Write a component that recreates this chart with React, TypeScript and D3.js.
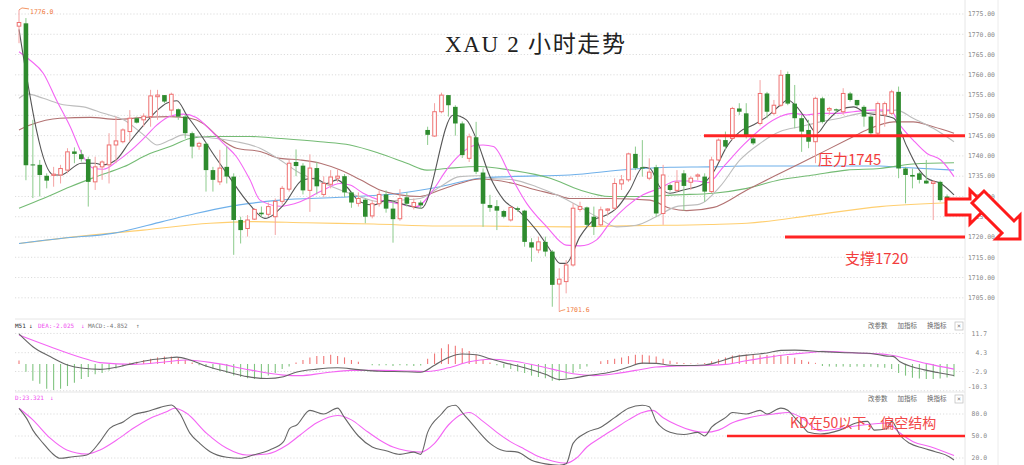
import React from 'react';
import * as d3 from 'd3';

const W = 1024;
const H = 465;

// ---- candles (2h XAU) ----
const opens = [1772.0,1772.7,1737.9,1737.8,1735.1,1735.2,1735.3,1736.5,1741.1,1740.4,1739.2,1733.6,1737.3,1737.8,1742.7,1743.5,1746.0,1749.3,1748.9,1749.7,1754.6,1755.0,1751.3,1751.5,1749.7,1745.6,1742.4,1743.0,1736.5,1733.6,1737.3,1734.9,1724.2,1722.1,1724.4,1726.0,1725.6,1725.0,1728.8,1731.8,1738.5,1737.6,1731.5,1737.0,1730.5,1733.0,1734.5,1735.0,1731.0,1728.3,1729.2,1725.2,1728.2,1730.5,1727.0,1724.5,1729.8,1727.5,1728.5,1746.4,1744.9,1750.9,1755.0,1752.1,1748.0,1739.4,1744.6,1735.9,1727.9,1727.6,1726.4,1724.2,1727.1,1726.5,1718.7,1716.8,1718.8,1716.4,1708.4,1709.0,1713.1,1726.8,1727.3,1725.0,1723.0,1726.6,1727.1,1733.1,1734.1,1740.5,1737.2,1734.5,1737.2,1725.8,1732.8,1731.5,1735.7,1733.5,1735.0,1734.9,1731.2,1739.0,1743.9,1744.3,1751.7,1750.5,1744.3,1748.0,1755.4,1750.5,1752.5,1760.2,1752.9,1749.3,1746.4,1743.5,1754.2,1751.3,1751.5,1750.9,1755.4,1753.8,1752.1,1749.7,1745.6,1750.1,1750.5,1755.8,1736.9,1735.3,1735.7,1733.9,1733.2,1733.6,1730.0,1728.3];
const highs = [1776.0,1774.0,1748.9,1739.0,1735.7,1737.3,1737.8,1741.9,1742.1,1741.5,1739.8,1739.8,1738.9,1745.6,1749.7,1746.8,1751.3,1749.7,1750.5,1756.3,1756.3,1755.0,1755.6,1751.7,1750.1,1746.0,1743.5,1743.3,1737.3,1741.5,1742.3,1735.7,1725.0,1725.4,1727.1,1727.5,1728.5,1729.5,1732.6,1739.0,1741.6,1738.2,1740.4,1738.5,1735.0,1736.5,1736.8,1735.5,1731.2,1731.0,1729.5,1729.0,1731.5,1731.5,1729.0,1731.8,1731.0,1729.5,1729.0,1747.2,1753.0,1755.6,1755.0,1752.5,1748.5,1745.5,1748.4,1736.9,1730.4,1729.1,1726.7,1727.6,1727.5,1726.7,1719.7,1720.1,1720.1,1716.8,1712.3,1714.3,1728.3,1728.7,1727.5,1727.5,1727.5,1727.1,1734.5,1735.3,1740.8,1742.3,1743.9,1739.4,1737.8,1737.8,1733.2,1736.5,1736.5,1735.0,1735.7,1735.7,1739.8,1744.3,1746.0,1752.1,1753.0,1753.0,1744.7,1758.7,1755.8,1753.8,1761.2,1760.8,1757.5,1750.1,1748.9,1754.6,1754.6,1752.1,1751.7,1756.7,1755.8,1753.8,1752.5,1750.1,1753.4,1753.4,1756.3,1757.1,1737.3,1736.9,1736.1,1739.0,1734.0,1733.9,1730.5,1728.7];
const lows = [1767.8,1734.0,1729.6,1730.0,1732.0,1732.4,1733.2,1735.7,1738.2,1738.6,1727.5,1731.6,1734.1,1733.2,1738.2,1743.1,1743.5,1748.0,1747.2,1747.2,1748.9,1753.0,1749.7,1748.9,1744.3,1739.4,1741.5,1731.2,1731.2,1732.8,1733.2,1715.6,1718.4,1720.1,1724.2,1724.8,1725.0,1720.5,1728.0,1731.2,1735.0,1730.5,1726.2,1730.5,1729.8,1732.0,1733.5,1729.8,1727.2,1727.5,1723.4,1724.6,1727.5,1726.0,1718.6,1724.0,1727.5,1726.8,1727.0,1742.7,1744.7,1750.5,1749.7,1745.0,1739.5,1738.5,1735.5,1722.5,1726.2,1721.7,1724.6,1723.8,1726.2,1717.6,1713.9,1716.0,1715.2,1702.8,1701.6,1706.1,1712.7,1726.2,1722.5,1720.5,1722.5,1725.4,1726.7,1731.6,1733.6,1736.5,1734.9,1734.0,1725.0,1723.0,1731.2,1731.0,1726.5,1731.6,1734.0,1728.7,1730.8,1738.6,1741.5,1743.9,1750.1,1744.3,1742.7,1747.5,1749.3,1750.1,1752.1,1752.5,1746.8,1741.0,1741.9,1738.2,1748.0,1750.1,1750.5,1750.1,1753.4,1752.1,1747.2,1745.2,1744.7,1747.2,1750.1,1734.5,1728.3,1732.0,1733.2,1733.1,1724.2,1728.7,1728.0,1727.1];
const closes = [1772.9,1737.7,1737.7,1735.3,1733.9,1735.5,1736.9,1741.0,1740.5,1739.2,1733.6,1737.3,1738.5,1742.7,1743.7,1746.4,1749.3,1748.2,1749.8,1754.8,1755.0,1753.4,1755.2,1749.7,1745.6,1742.3,1743.1,1736.5,1734.1,1737.0,1734.9,1724.2,1721.7,1724.2,1726.8,1725.6,1727.5,1728.8,1732.0,1738.2,1737.5,1731.5,1737.0,1732.5,1733.2,1734.8,1735.0,1731.0,1728.5,1729.5,1725.0,1728.2,1730.5,1727.0,1724.4,1729.5,1728.2,1728.5,1727.8,1745.2,1750.9,1755.0,1752.5,1748.0,1740.2,1744.7,1736.1,1728.2,1727.2,1726.5,1725.0,1727.3,1726.7,1718.8,1717.4,1718.8,1716.4,1708.2,1709.6,1713.1,1727.1,1727.5,1723.0,1722.5,1726.7,1726.9,1733.2,1734.1,1740.5,1737.0,1736.9,1736.0,1725.8,1735.3,1731.6,1733.5,1732.6,1734.5,1735.3,1731.2,1739.0,1743.9,1742.3,1751.7,1750.9,1744.7,1743.1,1755.4,1750.9,1752.5,1759.9,1752.9,1749.3,1746.0,1743.5,1754.2,1748.4,1751.7,1751.2,1755.4,1753.8,1752.5,1749.7,1745.6,1752.9,1752.9,1755.8,1736.9,1735.3,1734.9,1734.1,1733.2,1733.6,1729.1,1729.5,1727.5];

// ---- moving averages, read as [candle index, price] ----
const ma5 = [[0,1771.2],[5,1735.3],[6,1735.3],[9,1738.2],[11,1738.2],[12,1737.8],[14,1739],[16,1743.5],[18,1747.6],[20,1751.3],[21.3,1753],[22.8,1753.6],[24.2,1750.1],[26.1,1745.6],[28,1740.6],[30,1735.7],[33.35,1727.9],[35.5,1724.6],[38.2,1727.9],[41,1734.1],[42.7,1734.5],[44.4,1733.2],[45.9,1734.1],[47.3,1732.4],[49.2,1728.7],[51.2,1727.9],[53.1,1729.1],[55,1728.3],[58.1,1727.1],[62.7,1750.1],[64.6,1748.9],[66.1,1743.9],[68,1734.9],[70,1729.1],[72.3,1726.2],[74.7,1721.7],[76.7,1716.8],[78.1,1713.5],[79,1713.5],[81,1720.1],[83,1724.2],[84.8,1725.4],[86.3,1727.1],[88.2,1731.6],[90.1,1737.2],[91.1,1736.9],[92.5,1732.4],[94,1730.8],[95.9,1731.6],[98.5,1732.8],[100.3,1736.1],[102.2,1742.3],[104.1,1746],[106,1747.6],[108,1749.7],[109.9,1752.5],[111,1753.8],[112.3,1752.1],[113.7,1748.9],[115.2,1745.6],[116.6,1748.4],[118.5,1751.3],[120.5,1752.1],[122.4,1750.5],[124.3,1750.1],[126.3,1749.3],[128.2,1742.3],[130,1736.5],[131.1,1734.5],[133.1,1733.2],[135,1730.4]];
const ma10 = [[0,1765.7],[1.6,1763.6],[3.5,1760.4],[5.4,1753.8],[7.4,1747.2],[9.3,1739.8],[10.7,1737],[12.2,1736.7],[14.1,1738.6],[16,1741.1],[18,1744.3],[19.9,1747.6],[21.8,1749.8],[23.7,1750.3],[25.6,1749.5],[27.6,1746.4],[29.5,1743.1],[31.4,1739.8],[33.35,1734.1],[34.8,1729.1],[37.7,1727.6],[40.6,1728.7],[43.5,1731.2],[46.4,1733.2],[47.8,1732.8],[49.7,1730.8],[52.1,1729.1],[54.5,1728.3],[57.4,1727.5],[59.8,1731.6],[61.7,1736.5],[63.6,1740.2],[65.6,1742.5],[67,1742.7],[68.5,1742.3],[70.9,1735.3],[73.3,1728.3],[76.2,1722.5],[79,1718],[81,1717.8],[83.4,1719.3],[85.3,1723.4],[87.7,1727.5],[90.1,1730.4],[92.5,1732],[94.9,1733.8],[97.8,1733.8],[99.5,1733.4],[101.7,1737.3],[104.6,1742.7],[107.5,1747.2],[109.9,1749.7],[111.8,1750.5],[113.7,1750.1],[115.7,1750.5],[118.1,1750.5],[120.5,1750.9],[123.3,1751.3],[125.8,1751.3],[127.2,1747.6],[129.1,1743.9],[131.1,1740.6],[133.1,1739],[135,1734.9]];
const ma20 = [[0,1754.2],[1.2,1755.3],[3.5,1754.2],[6.4,1752.6],[9.3,1752.1],[12.2,1750.5],[15.1,1748.9],[18,1745.2],[19.9,1742.7],[21.8,1743.9],[23.7,1745.2],[25.6,1744.8],[28.5,1744.3],[31.4,1743.5],[34.8,1741.9],[37.7,1739],[40.6,1735.7],[43.5,1733.6],[46.4,1731.6],[49.3,1729.9],[52.1,1728.7],[55,1729.1],[57.9,1729.5],[60.8,1732.4],[63.6,1734.9],[66.5,1735.1],[68,1734.5],[71.4,1734.1],[74.7,1732.4],[77.6,1730.4],[80.5,1727.9],[83.4,1725],[86.3,1722.5],[89.1,1722.9],[92,1725],[94.9,1727.5],[98.3,1728.1],[101.2,1732.4],[104.1,1739],[107,1743.1],[109.9,1746],[112.8,1747.2],[115.7,1748.4],[118.5,1749.3],[121.4,1750.5],[124.3,1750.9],[126.7,1751.3],[129.1,1749.3],[132,1746.8],[135,1743.5]];
const ma30 = [[0,1746.4],[1.6,1747.6],[5.9,1749.3],[10.3,1749.5],[14.1,1749],[18,1749.5],[21.8,1749.7],[24.7,1749.3],[26.6,1748],[29,1744.3],[31.4,1741.9],[34.8,1741.1],[37.7,1739.4],[40.6,1739],[43.5,1738.2],[46.4,1736.5],[49.3,1734.1],[52.1,1731.6],[55,1730.4],[57.9,1730],[60.8,1731.6],[63.6,1733.2],[66.5,1734.3],[71.4,1733.2],[74.7,1731.6],[77.6,1730.4],[79.5,1729.5],[85.3,1729.5],[91.1,1729.1],[94,1727.1],[96.4,1726.5],[100.3,1727.3],[105.1,1731.6],[109.9,1735.7],[114.7,1739.8],[119.5,1743.9],[122.4,1746.4],[126.3,1748.4],[129.1,1748.4],[132,1747.2],[135,1745.6]];
const ma60 = [[0,1727.1],[3.5,1729.5],[7.4,1732.4],[11.2,1734.9],[15.1,1737.3],[18.9,1740.6],[21.8,1742.3],[24.7,1744.3],[27.6,1744.8],[33.35,1744.8],[37.7,1744.3],[43.5,1743.5],[47.8,1742.7],[52.1,1740.6],[56,1738.2],[58.9,1736.5],[61.7,1736.9],[66.5,1737.4],[70.9,1736.5],[76.7,1734.5],[81,1731.6],[85.3,1730],[90.1,1730],[94.9,1730.4],[100.3,1730.8],[105.1,1732],[109.9,1734.1],[114.7,1735.3],[119.5,1736.5],[124.3,1736.9],[129.1,1738],[135,1738.3]];
const ma120 = [[0,1718.4],[6.3,1719.7],[13.5,1720.9],[20.7,1723.8],[25.5,1725.8],[30.3,1727.5],[33.35,1728.3],[37.7,1729.1],[46.4,1729.8],[55,1730.8],[60.8,1732.4],[66.5,1734.5],[70.9,1734.9],[79.5,1735.3],[88.2,1736.7],[94,1737.2],[99.7,1737.3],[105.1,1737.5],[114.7,1737.5],[124.3,1737.5],[127.2,1737.2],[135,1736.5]];
const ma250 = [[0,1718.4],[8.3,1720.1],[17.9,1721.7],[27.6,1723.4],[33.35,1723.8],[41.5,1723.5],[51.2,1723.2],[60.8,1722.7],[66.5,1722.7],[79.5,1722.5],[89.1,1722.8],[99.7,1723.1],[105.1,1723.4],[114.7,1725.4],[124.3,1727.5],[135,1728.5]];

// ---- MACD ----
const dif = [[0,11.5],[2,6.6],[4.5,2.8],[7,-0.4],[9.3,-1.7],[11.7,-2.1],[14,-1.3],[16.5,0.2],[19,1.5],[21.3,2.2],[22.8,2.6],[24.7,1.5],[27,-0.8],[30,-3],[33,-4.9],[35.8,-5.6],[38.2,-4.9],[40,-3.2],[43,-2],[46,-1.5],[49,-2.2],[52,-2.8],[56,-3],[58,-3.2],[60,-0.5],[62,2.5],[64,3.8],[66,3.5],[68,2],[70,0.5],[73,-1.5],[76,-4],[78,-6],[80,-5.5],[82,-4.5],[84,-3.8],[86,-2.8],[88,-1.2],[90,0.3],[92,0.2],[94,-0.5],[96,-0.6],[99,-0.4],[101,0.8],[103,2.5],[106,3.6],[108,4.2],[110,5.2],[112,5.3],[116,4.7],[118.5,4.4],[123,4.0],[125.3,3.0],[126.2,2.9],[127.2,0.8],[129.1,-1.2],[131.1,-2.5],[133,-3.5],[135,-4.45]];
const dea = [[0,11.1],[4.5,6.6],[9.3,2.2],[11.7,0.5],[16.5,-0.2],[21.3,0.8],[24.2,1.5],[28.5,0.2],[33.3,-2.3],[38.2,-4.3],[40.6,-4.5],[44,-3.5],[48,-2.5],[52,-2.5],[56,-2.7],[59,-2.9],[62,-1.5],[65,0.8],[68,1.8],[71,1.2],[74,-0.2],[77,-2],[80,-3.8],[83,-4.5],[86,-3.8],[89,-2.5],[92,-1.2],[95,-0.8],[99,-0.6],[102,-0.2],[105,1.2],[108,2.5],[111,3.6],[114,4.3],[116,4.8],[120.9,4.2],[125.3,3.6],[128.2,2],[131.1,0.1],[135,-2.0]];
const macdHist = [1.3,-3,-6.5,-7.6,-9.5,-10,-9.5,-8.5,-7.2,-5.8,-5,-4,-3.5,-2.5,-1.8,-1,0.4,0.8,1.5,2,2.5,2.8,2.8,2.5,1.5,0.5,-0.5,-1.2,-2,-2.8,-3.5,-4.5,-5,-5.5,-5.8,-5.5,-4.5,-3.5,-2,-1,0.5,1.5,2.5,3,3,3.5,3,2.5,1.5,0.8,0,-0.5,-0.6,-0.5,-0.8,-0.5,-0.6,-0.8,-0.6,2,4,6,7.5,7,6,5,3.5,1.5,0.5,-0.5,-1.5,-2,-2.8,-3.5,-4.5,-5,-5.5,-6.5,-6.5,-5.5,-3.5,-2,-1,0,1,1.5,2,2.5,3,3.5,3.5,3.2,2.8,2,1.2,0.6,0.3,0.2,0.2,0.3,1,1.8,2.5,3.2,3.5,3.6,3.4,3.3,3.4,3.5,3.4,3,2.4,1.5,0.8,0.4,-0.8,-1,-1.1,-1,-1.2,-1,-1.2,-1.1,-1.3,-1.5,-2,-3.5,-4.5,-5.3,-5.6,-5.8,-5.8,-5.6,-5.2,-4.85];
const macdTicks = [11.7, 4.3, -2.9, -10.3];

// ---- KD ----
const kLine = [[0,87.8],[1.1,74],[2,58],[3.5,40],[4.9,25.4],[5.9,19.6],[7.8,21.8],[9.8,24],[11.7,42.3],[13.1,60.5],[15.1,69.5],[16.5,78.6],[18.4,83.2],[20.4,89],[22,92.3],[23.2,81],[24.7,53.6],[26.1,40],[27.6,28.6],[30,21],[31.9,19.6],[33.8,24],[36.2,31],[38.2,42.3],[39.1,60.5],[40.1,65],[42,85],[44,80],[46,88],[47,75],[49,50],[51,35],[53,30],[55,25],[57,28],[58,25],[59,55],[61,80],[62,90],[63,92],[64,82],[66,60],[68,40],[70,30],[72,28],[74,17],[76,12],[78,10],[79,12],[80,40],[82,55],[84,62],[86,75],[88,88],[90,92],[91,90],[92,70],[93,60],[94,55],[96,52],[98,55],[99,50],[100,62],[102,75],[103,82],[105,80],[107,85],[108,80],[110,88],[111,85],[112,75],[113,65],[114,55],[115.7,52.7],[118.5,58],[121,68],[122.5,70],[123.5,58],[125.3,60],[126,70],[127.2,51],[128.6,40],[130.5,33.6],[132.3,28.6],[134.3,21.8],[135,17.3]];
const dLine = [[0,87.8],[2,72],[4.5,47],[6.9,31],[9.8,25.4],[11.7,31],[14.1,44.5],[16.5,60.5],[18.9,74],[21.3,83],[22.5,87.8],[24.2,81],[27.1,53.6],[30,33.2],[32.9,24],[35.8,25.4],[38.7,37.7],[40.6,51.4],[43,68],[46,78],[48,72],[50,58],[52,45],[54,35],[56,30],[58,28],[60,40],[62,65],[64,80],[65,82],[67,70],[69,55],[71,42],[73,32],[75,22],[77,16],[79,13],[80.5,20],[82,35],[84,48],[86,60],[88,72],[90,82],[91.5,85],[93,75],[95,65],[97,58],[99,55],[101,58],[103,68],[105,74],[107,78],[109,80],[111,82],[113,75],[115.7,57],[120,62.7],[125.3,67.7],[127.2,54],[129.1,42.3],[131.6,35.4],[135,23.3]];
const kdTicks = [80, 50, 20];

const priceTicks = [1775, 1770, 1765, 1760, 1755, 1750, 1745, 1740, 1735, 1730, 1725, 1720, 1715, 1710, 1705];
const resistance = 1745;
const support = 1720;
const kdLevel = 50;
const highLabel = { i: 0, v: 1776.0 };
const lowLabel = { i: 78, v: 1701.6 };
const panelButtons = ['改参数', '加指标', '换指标'];

const MONO = '"DejaVu Sans Mono", monospace';
const CJK = '"Noto Sans CJK SC", "Noto Sans", sans-serif';

export default function App() {
  const x = d3.scaleLinear().domain([0, 135]).range([19, 954]);
  const y = d3.scaleLinear().domain([1720, 1775]).range([237, 14]);
  const ym = d3.scaleLinear().domain([0, 4.3]).range([363.9, 352.7]);
  const yk = d3.scaleLinear().domain([50, 80]).range([436, 414]);

  const lp = d3.line<number[]>().x(d => x(d[0])).y(d => y(d[1])).curve(d3.curveMonotoneX);
  const lm = d3.line<number[]>().x(d => x(d[0])).y(d => ym(d[1])).curve(d3.curveMonotoneX);
  const lk = d3.line<number[]>().x(d => x(d[0])).y(d => yk(d[1])).curve(d3.curveMonotoneX);

  const maSpec: [number[][], string, number][] = [
    [ma250, '#ffcf70', 1.1],
    [ma120, '#6fb0ea', 1.1],
    [ma60, '#74bb74', 1.1],
    [ma30, '#b27272', 1.1],
    [ma20, '#bdbdbd', 1.1],
    [ma10, '#f465f4', 1.1],
    [ma5, '#555555', 1.1],
  ];

  const bw = 4.6;
  const plotL = 15;
  const plotR = 965;

  // arrow geometry
  const ra = { x0: 946, x1: 970, yT: 199, yB: 215, hT: 190, hB: 224, tip: 987 };
  const rightArrow = `M${ra.x0},${ra.yT} L${ra.x1},${ra.yT} L${ra.x1},${ra.hT} L${ra.tip},${(ra.hT + ra.hB) / 2} L${ra.x1},${ra.hB} L${ra.x1},${ra.yB} L${ra.x0},${ra.yB} Z`;
  const tipX = 1020, tipY = 239, hs = 24, sw = 6, sl = 30;
  const bc = [tipX - hs / 2, tipY - hs / 2];
  const diagArrow = `M${tipX},${tipY} L${tipX - hs},${tipY} L${bc[0] - sw},${bc[1] + sw} L${bc[0] - sw - sl},${bc[1] + sw - sl} L${bc[0] + sw - sl},${bc[1] - sw - sl} L${bc[0] + sw},${bc[1] - sw} L${tipX},${tipY - hs} Z`;

  return (
    <div style={{ position: 'absolute', left: 0, top: 0 }}>
      <svg width={W} height={H} style={{ display: 'block', background: '#fff' }}>
        <rect x={0} y={0} width={W} height={H} fill="#fff" />
        {/* vertical separators */}
        <line x1={plotR} x2={plotR} y1={0} y2={H} stroke="#e6e6e6" />
        <line x1={998} x2={998} y1={0} y2={H} stroke="#ececec" />
        {/* panel separators */}
        <line x1={plotL} x2={plotR} y1={319} y2={319} stroke="#e6e6e6" />
        <line x1={plotL} x2={plotR} y1={392} y2={392} stroke="#e6e6e6" />

        {/* price grid + labels */}
        {priceTicks.map(t => (
          <g key={t}>
            <line x1={plotL} x2={plotR} y1={y(t)} y2={y(t)} stroke="#dcdcdc" strokeDasharray="1.2 2" />
            <text x={968} y={y(t)} dy="0.35em" fontSize={6.4} fontFamily={MONO} fill="#888">{t.toFixed(2)}</text>
          </g>
        ))}

        {/* MA lines */}
        {maSpec.map(([d, c, w], k) => (
          <path key={k} d={lp(d) || ''} fill="none" stroke={c} strokeWidth={w} />
        ))}

        {/* candles */}
        {opens.map((o, i) => {
          const c = closes[i];
          const up = c >= o;
          const cx = x(i);
          const top = y(Math.max(o, c));
          const bot = y(Math.min(o, c));
          const h = Math.max(bot - top, 1);
          return (
            <g key={i}>
              <line x1={cx} x2={cx} y1={y(highs[i])} y2={y(lows[i])} stroke={up ? '#f4a3a3' : '#8ccb8c'} strokeWidth={1} />
              {up ? (
                <rect x={cx - bw / 2 + 0.5} y={top} width={bw - 1} height={h} fill="#fff" stroke="#ee7070" strokeWidth={1} />
              ) : (
                <rect x={cx - bw / 2} y={top} width={bw} height={h} fill="#2e8b2e" />
              )}
            </g>
          );
        })}

        {/* high / low labels */}
        <polyline points={`${x(highLabel.i)},${y(highLabel.v)} ${x(highLabel.i) + 3},${y(highLabel.v) - 2} ${x(highLabel.i) + 10},${y(highLabel.v) - 1}`} fill="none" stroke="#f07a3c" strokeWidth={0.8} />
        <text x={x(highLabel.i) + 11} y={y(highLabel.v) + 4} fontSize={6.5} fontFamily={MONO} fill="#f07a3c">{highLabel.v.toFixed(1)}</text>
        <polyline points={`${x(lowLabel.i)},${y(lowLabel.v)} ${x(lowLabel.i) + 2},${y(lowLabel.v) - 1} ${x(lowLabel.i) + 6},${y(lowLabel.v) - 2}`} fill="none" stroke="#f07a3c" strokeWidth={0.8} />
        <text x={x(lowLabel.i) + 7} y={y(lowLabel.v) - 2} dy="0.35em" fontSize={6.5} fontFamily={MONO} fill="#f07a3c">{lowLabel.v.toFixed(1)}</text>

        {/* title */}
        <text x={445} y={52} fontSize={23} fontFamily={'"Liberation Serif", "Noto Sans CJK SC", serif'} fill="#222" textLength={180} lengthAdjust="spacing">XAU 2 小时走势</text>

        {/* resistance / support */}
        <line x1={704} x2={plotR} y1={y(resistance)} y2={y(resistance)} stroke="#ff2424" strokeWidth={3} />
        <text x={818} y={160} dy="0.35em" fontSize={15} fontFamily={CJK} fill="#f23c3c">压力{resistance}</text>
        <line x1={785} x2={plotR} y1={y(support)} y2={y(support)} stroke="#ff2424" strokeWidth={3} />
        <text x={845} y={259} dy="0.35em" fontSize={15} fontFamily={CJK} fill="#f23c3c">支撑{support}</text>

        {/* arrows */}
        <path d={rightArrow} fill="#fff" stroke="#ff1a1a" strokeWidth={3} strokeLinejoin="miter" />
        <path d={diagArrow} fill="#fff" stroke="#ff1a1a" strokeWidth={3} strokeLinejoin="miter" />

        {/* MACD panel */}
        {macdTicks.map(t => (
          <g key={t}>
            <line x1={plotL} x2={plotR} y1={ym(t)} y2={ym(t)} stroke="#dcdcdc" strokeDasharray="1.2 2" />
            <text x={987} y={Math.min(ym(t), 387)} dy="0.35em" textAnchor="end" fontSize={6.4} fontFamily={MONO} fill="#888">{t.toFixed(1)}</text>
          </g>
        ))}
        {macdHist.map((v, i) => (
          <line key={i} x1={x(i)} x2={x(i)} y1={ym(0)} y2={ym(v)} stroke={v >= 0 ? '#f07878' : '#80c480'} strokeWidth={1.1} />
        ))}
        <path d={lm(dea) || ''} fill="none" stroke="#f465f4" strokeWidth={1.1} />
        <path d={lm(dif) || ''} fill="none" stroke="#666" strokeWidth={1.1} />
        <text y={326} dy="0.35em" fontSize={6} fontFamily={MONO}>
          <tspan x={15} fill="#333">M51</tspan>
          <tspan x={29} fill="#333">↓</tspan>
          <tspan x={38} fill="#f050f0">DEA:-2.025</tspan>
          <tspan x={81} fill="#f050f0">↓</tspan>
          <tspan x={88} fill="#777">MACD:-4.852</tspan>
          <tspan x={136} fill="#777">↑</tspan>
        </text>

        {/* KD panel */}
        {kdTicks.map(t => (
          <g key={t}>
            <line x1={plotL} x2={plotR} y1={yk(t)} y2={yk(t)} stroke="#dcdcdc" strokeDasharray="1.2 2" />
            <text x={987} y={yk(t)} dy="0.35em" textAnchor="end" fontSize={6.4} fontFamily={MONO} fill="#888">{t.toFixed(1)}</text>
          </g>
        ))}
        <path d={lk(dLine) || ''} fill="none" stroke="#f465f4" strokeWidth={1.1} />
        <path d={lk(kLine) || ''} fill="none" stroke="#666" strokeWidth={1.1} />
        <text y={398} dy="0.35em" fontSize={6} fontFamily={MONO}>
          <tspan x={15} fill="#f050f0">D:23.321</tspan>
          <tspan x={50} fill="#f050f0">↓</tspan>
        </text>
        <line x1={727} x2={plotR} y1={yk(kdLevel)} y2={yk(kdLevel)} stroke="#ff2424" strokeWidth={2.5} />
        <text x={790} y={423} dy="0.35em" fontSize={14} fontFamily={CJK} fill="#f24848">KD在50以下，偏空结构</text>

        {/* panel buttons */}
        {[326, 399].map(py => (
          <g key={py}>
            {panelButtons.map((b, k) => (
              <text key={b} x={868 + k * 29.5} y={py} dy="0.35em" fontSize={6.5} fontFamily={CJK} fill="#666">{b}</text>
            ))}
            <rect x={955} y={py - 4} width={8} height={8} fill="#fff" stroke="#bbb" strokeWidth={0.7} />
            <text x={959} y={py} dy="0.35em" textAnchor="middle" fontSize={6.5} fontFamily={MONO} fill="#777">×</text>
          </g>
        ))}
      </svg>
    </div>
  );
}
